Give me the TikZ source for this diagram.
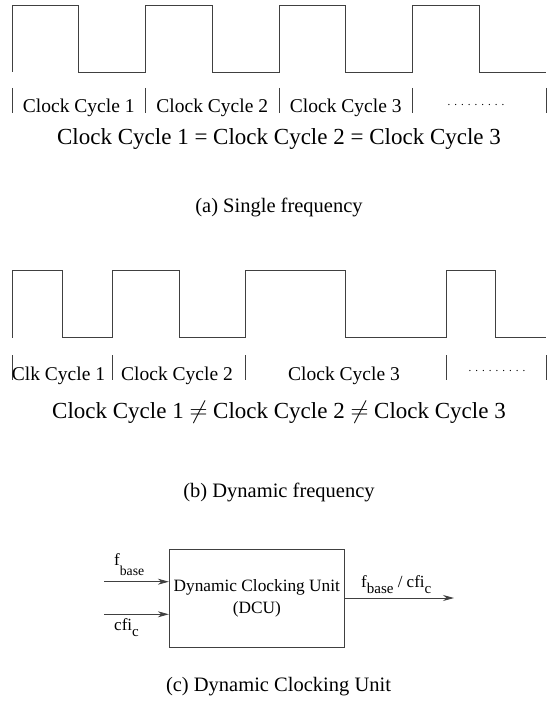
\documentclass[tikz,border=0pt]{standalone}
\usepackage{fontspec}
\setmainfont{Liberation Serif}
\usetikzlibrary{arrows.meta}
\newcommand{\dotrow}{.\kern4pt.\kern4pt.\kern4pt.\kern4pt.\kern4pt.\kern4pt.\kern4pt.\kern4pt.}
\begin{document}
\begin{tikzpicture}[x=1pt,y=-1pt,
  wave/.style={line width=0.9pt, draw=black!75, line join=miter},
  tickmark/.style={line width=0.9pt, draw=black!75},
  lbl/.style={anchor=base, inner sep=0pt, font=\fontsize{19.5}{23}\selectfont},
  big/.style={anchor=base, inner sep=0pt, font=\fontsize{23}{27}\selectfont},
  capt/.style={anchor=base, inner sep=0pt, font=\fontsize{20.5}{24}\selectfont},
  dotlbl/.style={anchor=base, inner sep=0pt, font=\fontsize{11}{12}\selectfont},
  blk/.style={draw=black!75, line width=0.9pt, minimum width=175pt, minimum height=98pt, inner sep=0pt, align=center, font=\fontsize{17.3}{22}\selectfont},
  arr/.style={line width=0.9pt, draw=black!75, -{Stealth[length=11pt,width=6pt,inset=3.5pt]}},
  sig/.style={anchor=base west, inner sep=0pt, font=\fontsize{17}{20}\selectfont}
]
\useasboundingbox (0,0) rectangle (547,711);

% (a) single frequency
\draw[wave] (12,72) -- (12,5) -- (78.75,5) -- (78.75,72) -- (145.5,72) -- (145.5,5) -- (212.25,5) -- (212.25,72) -- (279,72) -- (279,5) -- (345.75,5) -- (345.75,72) -- (412.5,72) -- (412.5,5) -- (479.25,5) -- (479.25,72) -- (546,72);
\foreach \x in {12,145.5,279,412.5,546} \draw[tickmark] (\x,88) -- (\x,113);
\node[lbl] (a1) at (78.75,113) {Clock Cycle 1};
\node[lbl] (a2) at (212.25,113) {Clock Cycle 2};
\node[lbl] (a3) at (345.75,113) {Clock Cycle 3};
\node[dotlbl] (a4) at (476,106) {\dotrow};
\node[big] (aeq) at (279,145) {Clock Cycle 1 = Clock Cycle 2 = Clock Cycle 3};
\node[capt] (acap) at (279,212) {(a) Single frequency};

% (b) dynamic frequency
\draw[wave] (12,337.5) -- (12,270.5) -- (62,270.5) -- (62,337.5) -- (112,337.5) -- (112,270.5) -- (179,270.5) -- (179,337.5) -- (245.5,337.5) -- (245.5,270.5) -- (345.5,270.5) -- (345.5,337.5) -- (446,337.5) -- (446,270.5) -- (495.5,270.5) -- (495.5,337.5) -- (546,337.5);
\foreach \x in {12,112,245.5,446,546} \draw[tickmark] (\x,355) -- (\x,380);
\node[lbl] (b1) at (58.5,380) {Clk Cycle 1};
\node[lbl] (b2) at (177,380) {Clock Cycle 2};
\node[lbl] (b3) at (344,380) {Clock Cycle 3};
\node[dotlbl] (b4) at (497,371) {\dotrow};
\node[big] (bneq) at (279,418) {Clock Cycle 1 $\neq$ Clock Cycle 2 $\neq$ Clock Cycle 3};
\node[capt] (bcap) at (279,497) {(b) Dynamic frequency};

% (c) dynamic clocking unit
\node[blk] (dcu) at (256.8,598) {Dynamic Clocking Unit\\(DCU)};
\coordinate (in1) at (104,581.7);
\coordinate (in2) at (104,614.3);
\coordinate (out) at (454,598);
\draw[arr] (in1) -- (in1 -| dcu.west);
\draw[arr] (in2) -- (in2 -| dcu.west);
\draw[arr] (dcu.east) -- (out);
\node[sig] (fb) at (114,565) {f\raisebox{-10pt}{\fontsize{13.7}{14}\selectfont base}};
\node[sig] (cf) at (114,630) {cfi\raisebox{-6pt}{\fontsize{15}{15}\selectfont c}};
\node[sig] (ratio) at (361,587) {f\raisebox{-6pt}{\fontsize{15}{15}\selectfont base} / cfi\raisebox{-6pt}{\fontsize{15}{15}\selectfont c}};
\node[capt] (ccap) at (278.5,691) {(c) Dynamic Clocking Unit};
\end{tikzpicture}
\end{document}
